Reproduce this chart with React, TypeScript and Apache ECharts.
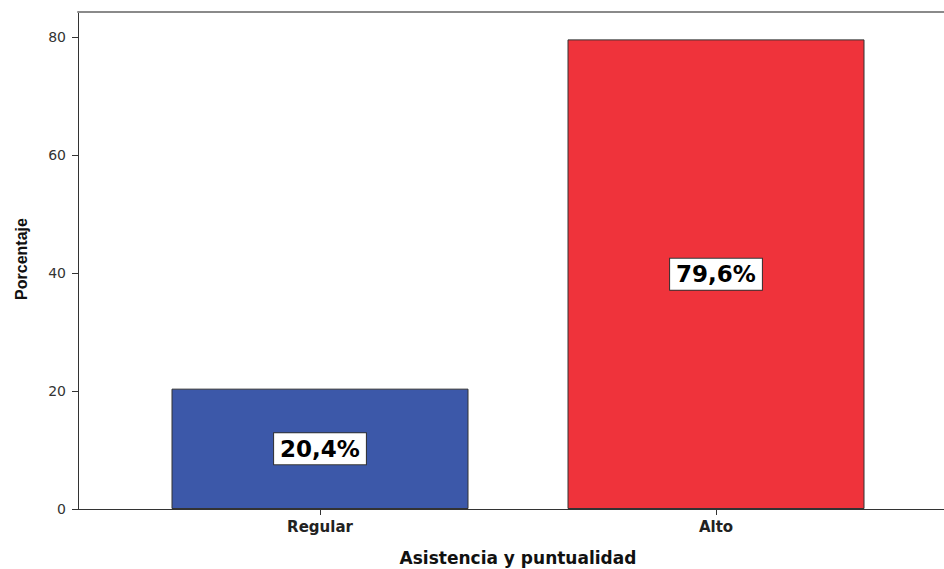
import React, { useEffect, useRef } from "react";
import * as echarts from "echarts";

const categories = ["Regular", "Alto"];
const percentages = [20.4, 79.6];
const barColors = ["#3C58A9", "#EF333B"];
const yTicks = [0, 20, 40, 60, 80];
const xTitle = "Asistencia y puntualidad";
const yTitle = "Porcentaje";

const fmt = (v: number) => v.toFixed(1).replace(".", ",") + "%";

export default function App() {
  const ref = useRef<HTMLDivElement>(null);
  useEffect(() => {
    if (!ref.current) return;
    const chart = echarts.init(ref.current, undefined, { renderer: "svg" });
    const yMax = 84.24;
    const option: any = {
      animation: false,
      backgroundColor: "#ffffff",
      grid: [
        { left: 78, right: -2, top: 12, bottom: 60, outerBoundsMode: "none", containLabel: false },
        { left: 122, right: 30, top: 12, bottom: 60, outerBoundsMode: "none", containLabel: false },
      ],
      xAxis: [
        {
          gridIndex: 0,
          type: "value",
          min: 0,
          max: 1,
          position: "bottom",
          axisLine: { show: true, lineStyle: { color: "#333", width: 1 } },
          axisTick: { show: false },
          axisLabel: { show: false },
          splitLine: { show: false },
        },
        {
          gridIndex: 0,
          type: "value",
          min: 0,
          max: 1,
          position: "top",
          axisLine: { show: true, lineStyle: { color: "#8a8a8a", width: 2 } },
          axisTick: { show: false },
          axisLabel: { show: false },
          splitLine: { show: false },
        },
        {
          gridIndex: 1,
          type: "category",
          data: categories,
          axisLine: { show: false },
          axisTick: {
            show: true,
            alignWithLabel: true,
            length: 6,
            lineStyle: { color: "#333" },
          },
          axisLabel: {
            margin: 10,
            fontFamily: "DejaVu Sans",
            fontWeight: "bold",
            fontSize: 15,
            color: "#222",
          },
          name: xTitle,
          nameLocation: "middle",
          nameGap: 40,
          nameTextStyle: {
            fontFamily: "DejaVu Sans",
            fontWeight: "bold",
            fontSize: 17,
            color: "#111",
          },
        },
      ],
      yAxis: [
        {
          gridIndex: 0,
          type: "value",
          min: 0,
          max: yMax,
          interval: 20,
          axisLine: { show: true, lineStyle: { color: "#333", width: 1 } },
          axisTick: {
            show: true,
            length: 6,
            customValues: yTicks,
            lineStyle: { color: "#333" },
          },
          axisLabel: {
            margin: 12,
            customValues: yTicks,
            formatter: (v: number) => (yTicks.includes(v) ? String(v) : ""),
            fontFamily: "DejaVu Sans",
            fontSize: 14,
            color: "#333",
          },
          splitLine: { show: false },
        },
        {
          gridIndex: 1,
          type: "value",
          min: 0,
          max: yMax,
          show: false,
        },
      ],
      series: [
        {
          type: "bar",
          xAxisIndex: 2,
          yAxisIndex: 1,
          barWidth: 297,
          data: percentages.map((v, i) => ({
            value: v,
            itemStyle: {
              color: barColors[i],
              borderColor: "#333",
              borderWidth: 1,
            },
          })),
          label: {
            show: true,
            position: "inside",
            formatter: (p: any) => fmt(p.value),
            fontFamily: "DejaVu Sans",
            fontWeight: "bold",
            fontSize: 23,
            color: "#000",
            backgroundColor: "#fff",
            borderColor: "#333",
            borderWidth: 1,
            padding: [3, 6, 2, 6],
            lineHeight: 26,
          },
        },
      ],
      graphic: [
        {
          type: "text",
          x: 21,
          y: 259,
          rotation: Math.PI / 2,
          style: {
            text: yTitle,
            font: "bold 16px 'Liberation Sans', Arial, sans-serif",
            fill: "#111",
            align: "center",
            verticalAlign: "middle",
          },
        },
      ],
    };
    chart.setOption(option);
    return () => chart.dispose();
  }, []);
  return (
    <div
      ref={ref}
      style={{ position: "absolute", left: 0, top: 0, width: 944, height: 569 }}
    />
  );
}
